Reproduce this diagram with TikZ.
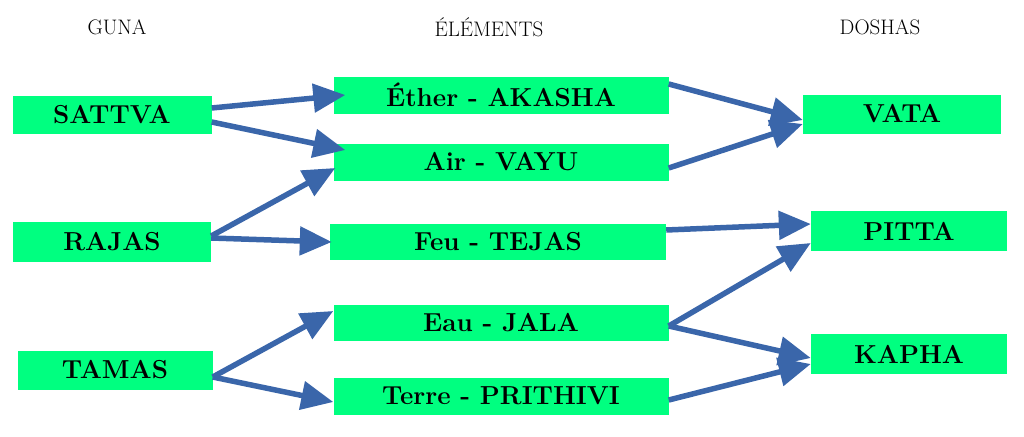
\documentclass[tikz,border=0pt]{standalone}
\usetikzlibrary{arrows.meta}
\definecolor{boxgreen}{HTML}{00FF80}
\definecolor{arrowblue}{HTML}{3A66AA}
\tikzset{
  box/.style={fill=boxgreen,minimum height=38pt,inner sep=0pt,
    font=\fontsize{26}{30}\selectfont\bfseries},
  head/.style={font=\fontsize{21}{24}\selectfont},
  link/.style={arrowblue,line width=5.5pt,-{Triangle[length=32pt,width=28pt]}},
}
\begin{document}
\begin{tikzpicture}[x=1pt,y=-1pt]
\useasboundingbox (0,0) rectangle (1024,436);
% headers
\node[head] (hguna) at (117,27) {GUNA};
\node[head] (helem) at (489,27) {ÉLÉMENTS};
\node[head] (hdosha) at (880,27) {DOSHAS};
% guna
\node[box,minimum width=199pt] (sattva) at (112,115) {SATTVA};
\node[box,minimum width=198pt,minimum height=40pt] (rajas) at (112,242) {RAJAS};
\node[box,minimum width=195pt,minimum height=39pt] (tamas) at (115,370) {TAMAS};
% elements
\node[box,minimum width=335pt,minimum height=37pt] (ether) at (501,95) {Éther - AKASHA};
\node[box,minimum width=335pt,minimum height=37pt] (air) at (501,162) {Air - VAYU};
\node[box,minimum width=336pt,minimum height=36pt] (feu) at (498,242) {Feu - TEJAS};
\node[box,minimum width=335pt,minimum height=36pt] (eau) at (501,323) {Eau - JALA};
\node[box,minimum width=335pt,minimum height=37pt] (terre) at (501,396) {Terre - PRITHIVI};
% doshas
\node[box,minimum width=198pt,minimum height=39pt] (vata) at (902,114) {VATA};
\node[box,minimum width=196pt,minimum height=40pt] (pitta) at (909,231) {PITTA};
\node[box,minimum width=196pt,minimum height=40pt] (kapha) at (909,354) {KAPHA};
% links
\draw[link] ([yshift=7pt]sattva.east) -- ([xshift=12pt]ether.west);
\draw[link] ([yshift=-7pt]sattva.east) -- ([xshift=12pt,yshift=12pt]air.west);
\draw[link] ([yshift=6pt]rajas.east) -- ([xshift=2pt,yshift=-6pt]air.west);
\draw[link] ([yshift=4pt]rajas.east) -- ([xshift=2pt]feu.west);
\draw[link] ([yshift=-7pt]tamas.east) -- ([yshift=12pt]eau.west);
\draw[link] ([yshift=-7pt]tamas.east) -- ([yshift=-6pt]terre.west);
\draw[link] ([yshift=11pt]ether.east) -- ([yshift=-6pt]vata.west);
\draw[link] ([yshift=-6pt]air.east) -- ([yshift=-10pt]vata.west);
\draw[link] ([yshift=12pt]feu.east) -- ([yshift=7pt]pitta.west);
\draw[link] ([yshift=-3pt]eau.east) -- ([yshift=-12pt]pitta.west);
\draw[link] ([yshift=-3pt]eau.east) -- ([yshift=-4pt]kapha.west);
\draw[link] ([yshift=-4pt]terre.east) -- ([yshift=-10pt]kapha.west);
\end{tikzpicture}
\end{document}
